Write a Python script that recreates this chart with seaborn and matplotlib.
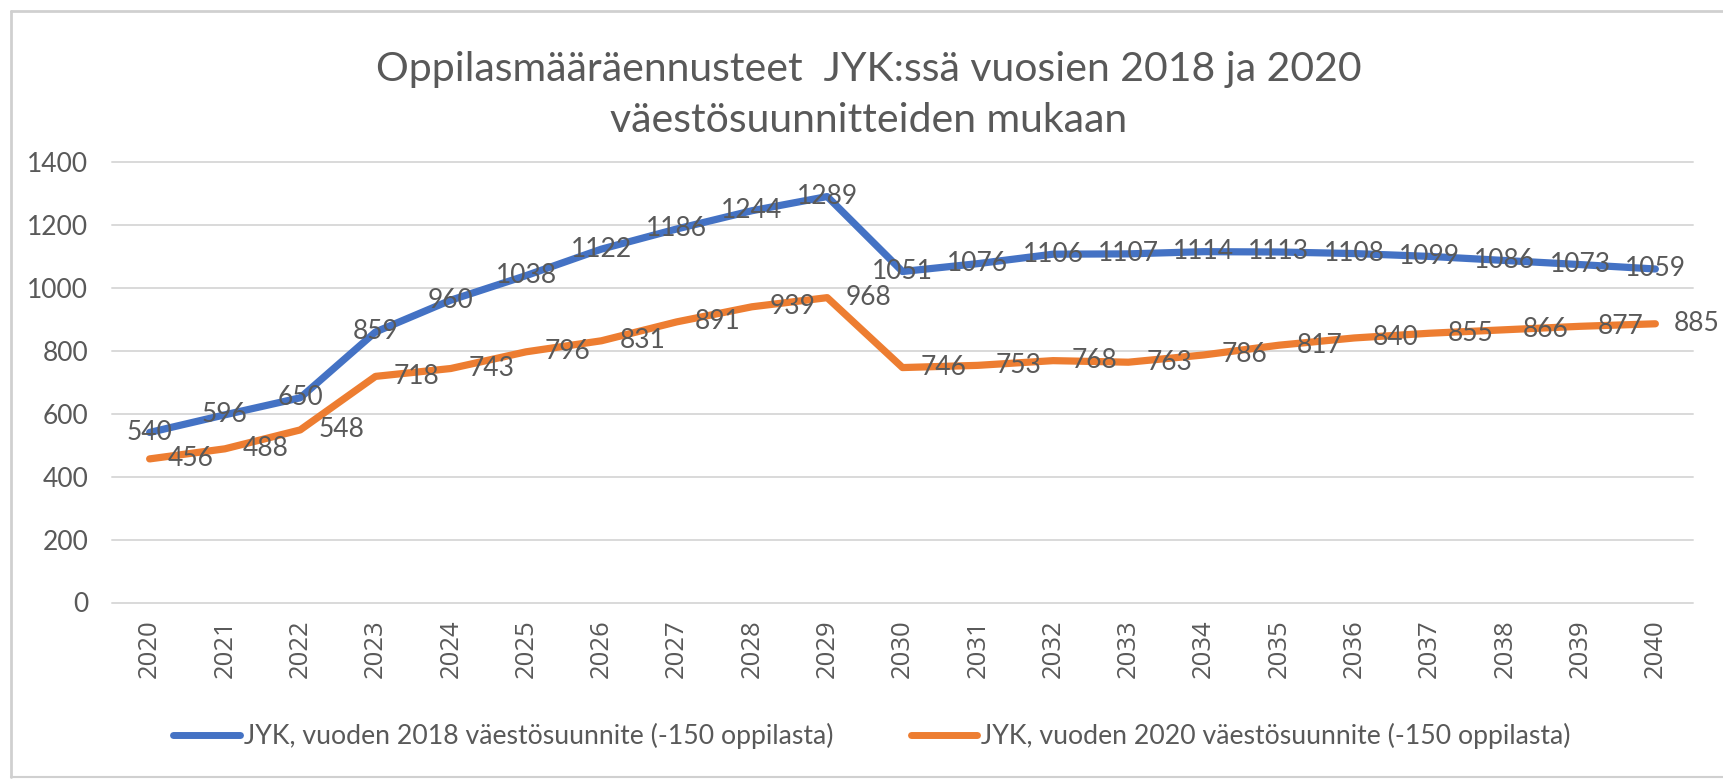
import matplotlib
matplotlib.use("Agg")
import matplotlib.pyplot as plt
import seaborn as sns
import pandas as pd
from matplotlib.lines import Line2D

years = list(range(2020, 2041))
series_2018 = [540, 596, 650, 859, 960, 1038, 1122, 1186, 1244, 1289, 1051,
               1076, 1106, 1107, 1114, 1113, 1108, 1099, 1086, 1073, 1059]
series_2020 = [456, 488, 548, 718, 743, 796, 831, 891, 939, 968, 746,
               753, 768, 763, 786, 817, 840, 855, 866, 877, 885]
name_2018 = "JYK, vuoden 2018 väestösuunnite (-150 oppilasta)"
name_2020 = "JYK, vuoden 2020 väestösuunnite (-150 oppilasta)"
title_1 = "Oppilasmääräennusteet  JYK:ssä vuosien 2018 ja 2020"
title_2 = "väestösuunnitteiden mukaan"
y_ticks = [0, 200, 400, 600, 800, 1000, 1200, 1400]

BLUE = "#4472C4"
ORANGE = "#ED7D31"
TXT = "#595959"
GRID = "#D9D9D9"

sns.set_theme(style="white")
plt.rcParams['font.family'] = ['Lato', 'DejaVu Sans']

n = len(years)
df = pd.DataFrame({
    "idx": list(range(n)) * 2,
    "value": series_2018 + series_2020,
    "series": [name_2018] * n + [name_2020] * n,
})

fig = plt.figure(figsize=(17.24, 7.79), dpi=100)
ax = fig.add_axes([112 / 1724, 1 - 602.5 / 779, (1693 - 112) / 1724, (602.5 - 161.6) / 779])

sns.lineplot(data=df, x="idx", y="value", hue="series",
             palette={name_2018: BLUE, name_2020: ORANGE},
             linewidth=5.2, ax=ax, legend=False, sort=False)
for l in ax.lines:
    l.set_solid_capstyle("round")
    l.set_solid_joinstyle("round")

ax.set_xlim(-0.5, n - 0.5)
ax.set_ylim(0, 1400)
ax.set_yticks(y_ticks)
ax.set_yticklabels([str(v) for v in y_ticks], fontsize=19, color=TXT)
ax.set_xticks(range(n))
ax.set_xticklabels([str(y) for y in years], rotation=90, fontsize=18.5,
                   color=TXT, family="Open Sans", va="top")
ax.tick_params(axis="both", length=0)
ax.tick_params(axis="y", pad=17)
ax.tick_params(axis="x", pad=12)
ax.set_xlabel("")
ax.set_ylabel("")
for s in ax.spines.values():
    s.set_visible(False)
ax.yaxis.grid(True, color=GRID, linewidth=1.4, clip_on=False)
ax.xaxis.grid(False)
ax.set_axisbelow(True)

for i, v in enumerate(series_2018):
    ax.annotate(str(v), (i, v), ha="center", va="center", fontsize=19,
                color=TXT, annotation_clip=False)
for i, v in enumerate(series_2020):
    ax.annotate(str(v), (i, v), xytext=(13, 0), textcoords="offset points",
                ha="left", va="center", fontsize=19, color=TXT,
                annotation_clip=False)

fig.text(0.504, 1 - 69 / 779, title_1, ha="center", va="center",
         fontsize=29.5, color=TXT)
fig.text(0.504, 1 - 120 / 779, title_2, ha="center", va="center",
         fontsize=29.5, color=TXT)

handles = [Line2D([0], [0], color=BLUE, lw=5, solid_capstyle="round"),
           Line2D([0], [0], color=ORANGE, lw=5, solid_capstyle="round")]
leg = fig.legend(handles, [name_2018, name_2020], loc="center",
                 bbox_to_anchor=(872 / 1724, 1 - 736 / 779), ncol=2,
                 frameon=False, fontsize=19.2, handlelength=2.5,
                 handletextpad=0.15, columnspacing=2.9)
for t in leg.get_texts():
    t.set_color(TXT)

# chart border (top, left, bottom visible)
bc = "#D0D0D0"
fig.add_artist(Line2D([11 / 1724, 1.0], [1 - 11 / 779, 1 - 11 / 779],
                      transform=fig.transFigure, color=bc, lw=2))
fig.add_artist(Line2D([11 / 1724, 11 / 1724], [1 - 11 / 779, 1 - 777 / 779],
                      transform=fig.transFigure, color=bc, lw=2))
fig.add_artist(Line2D([11 / 1724, 1.0], [1 - 777 / 779, 1 - 777 / 779],
                      transform=fig.transFigure, color=bc, lw=1.5))

fig.savefig("out.png", dpi=100, facecolor="white")
